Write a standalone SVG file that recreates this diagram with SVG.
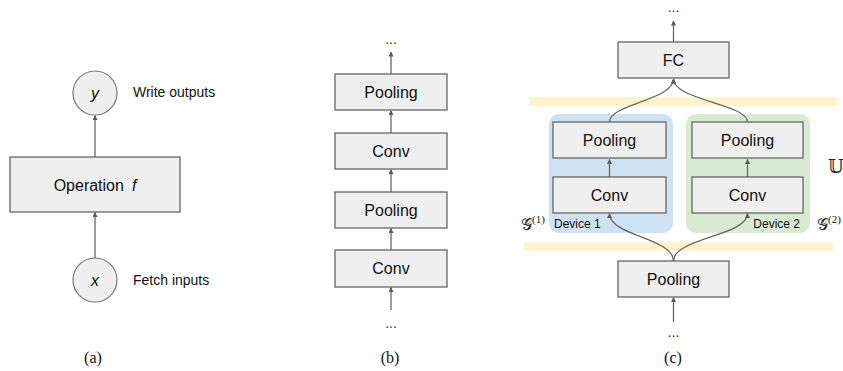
<svg xmlns="http://www.w3.org/2000/svg" width="843" height="371" viewBox="0 0 843 371">
<defs>
<marker id="ah" viewBox="0 0 10 10" refX="9" refY="5" markerWidth="5" markerHeight="5" orient="auto" markerUnits="userSpaceOnUse">
<path d="M0,0 L10,5 L0,10 z" fill="#595959"/>
</marker>
<style>
.box{fill:#efefef;stroke:#666;stroke-width:1.3}
.lbl{font-family:"Liberation Sans",Arial,sans-serif;font-size:16px;fill:#111;text-anchor:middle}
.side{font-family:"Liberation Sans",Arial,sans-serif;font-size:14px;fill:#111}
.dev{font-family:"Liberation Sans",Arial,sans-serif;font-size:12px;fill:#111}
.dots{font-family:"Liberation Sans",Arial,sans-serif;font-size:14px;fill:#333;text-anchor:middle}
.cap{font-family:"Liberation Serif","Times New Roman",serif;font-size:16px;fill:#111;text-anchor:middle}
.math{font-family:"DejaVu Serif","Liberation Serif",serif;fill:#222}
.sup{font-family:"Liberation Serif",serif}
.con{fill:none;stroke:#666;stroke-width:1.3;marker-end:url(#ah)}
.band{fill:#fff2cc}
</style>
</defs>
<rect width="843" height="371" fill="#fff"/>

<!-- backgrounds -->
<rect class="band" x="529" y="97" width="308" height="9"/>
<rect class="band" x="524" y="242" width="309" height="9"/>
<rect id="dev1" x="549" y="114" width="124" height="119" rx="10" fill="#cfe2f3"/>
<rect id="dev2" x="686" y="114" width="124" height="119" rx="10" fill="#d9ead3"/>

<!-- connectors -->
<g id="connectors">
<line class="con" x1="95" y1="157" x2="95" y2="115.5"/>
<line class="con" x1="95" y1="258" x2="95" y2="212.5"/>
<line class="con" x1="391" y1="74" x2="391" y2="52"/>
<line class="con" x1="391" y1="133" x2="391" y2="110.5"/>
<line class="con" x1="391" y1="192" x2="391" y2="169.5"/>
<line class="con" x1="391" y1="250" x2="391" y2="228.5"/>
<line class="con" x1="391" y1="310" x2="391" y2="287.5"/>
<line class="con" x1="673.5" y1="42" x2="673.5" y2="21"/>
<line class="con" x1="609.5" y1="177" x2="609.5" y2="159.5"/>
<line class="con" x1="747.5" y1="177" x2="747.5" y2="159.5"/>
<line class="con" x1="673.5" y1="322" x2="673.5" y2="297.5"/>
<path class="con" d="M609.5,122 C609.5,104 673.5,100 673.5,79"/>
<path class="con" d="M747.5,122 C747.5,104 673.5,100 673.5,79"/>
<path class="con" d="M673.5,261 C673.5,238 609.5,236 609.5,213.5"/>
<path class="con" d="M673.5,261 C673.5,238 747.5,236 747.5,213.5"/>
</g>

<!-- panel a -->
<g id="y-node">
<circle cx="95" cy="93" r="22" fill="#efefef" stroke="#777" stroke-width="1.2"/>
<text class="lbl" x="95" y="99" font-style="italic">y</text>
</g>
<text class="side" x="133" y="97">Write outputs</text>
<g id="op-node">
<rect class="box" x="10" y="157" width="170" height="55"/>
<text class="lbl" x="95" y="191">Operation<tspan font-style="italic" dx="8">f</tspan></text>
</g>
<g id="x-node">
<circle cx="95" cy="280" r="22" fill="#efefef" stroke="#777" stroke-width="1.2"/>
<text class="lbl" x="95" y="286" font-style="italic">x</text>
</g>
<text class="side" x="133" y="285">Fetch inputs</text>
<text class="cap" x="93" y="363">(a)</text>

<!-- panel b -->
<text class="dots" x="391" y="44">...</text>
<g id="b-pool1"><rect class="box" x="335" y="74" width="112" height="36"/><text class="lbl" x="391" y="98">Pooling</text></g>
<g id="b-conv1"><rect class="box" x="335" y="133" width="112" height="36"/><text class="lbl" x="391" y="157">Conv</text></g>
<g id="b-pool2"><rect class="box" x="335" y="192" width="112" height="36"/><text class="lbl" x="391" y="216">Pooling</text></g>
<g id="b-conv2"><rect class="box" x="335" y="250" width="112" height="37"/><text class="lbl" x="391" y="274">Conv</text></g>
<text class="dots" x="391" y="328">...</text>
<text class="cap" x="390" y="363">(b)</text>

<!-- panel c -->
<text class="dots" x="673.5" y="12">...</text>
<g id="c-fc"><rect class="box" x="618" y="42" width="111" height="36"/><text class="lbl" x="673.5" y="66">FC</text></g>
<g id="c-pool-l"><rect class="box" x="553" y="122" width="113" height="36"/><text class="lbl" x="609.5" y="146">Pooling</text></g>
<g id="c-pool-r"><rect class="box" x="692" y="122" width="111" height="36"/><text class="lbl" x="747.5" y="146">Pooling</text></g>
<g id="c-conv-l"><rect class="box" x="553" y="177" width="113" height="36"/><text class="lbl" x="609.5" y="201">Conv</text></g>
<g id="c-conv-r"><rect class="box" x="692" y="177" width="111" height="36"/><text class="lbl" x="747.5" y="201">Conv</text></g>
<text class="dev" x="554" y="228">Device 1</text>
<text class="dev" x="800" y="228" text-anchor="end">Device 2</text>
<text class="math" x="521" y="230" font-size="16">𝒢<tspan class="sup" font-size="11" dy="-7">(1)</tspan></text>
<text class="math" x="817" y="230" font-size="16">𝒢<tspan class="sup" font-size="11" dy="-7">(2)</tspan></text>
<text class="math" x="828" y="173" font-size="18">𝕌</text>
<g id="c-pool-b"><rect class="box" x="618" y="261" width="111" height="36"/><text class="lbl" x="673.5" y="285">Pooling</text></g>
<text class="dots" x="673.5" y="337">...</text>
<text class="cap" x="673" y="363">(c)</text>
</svg>
